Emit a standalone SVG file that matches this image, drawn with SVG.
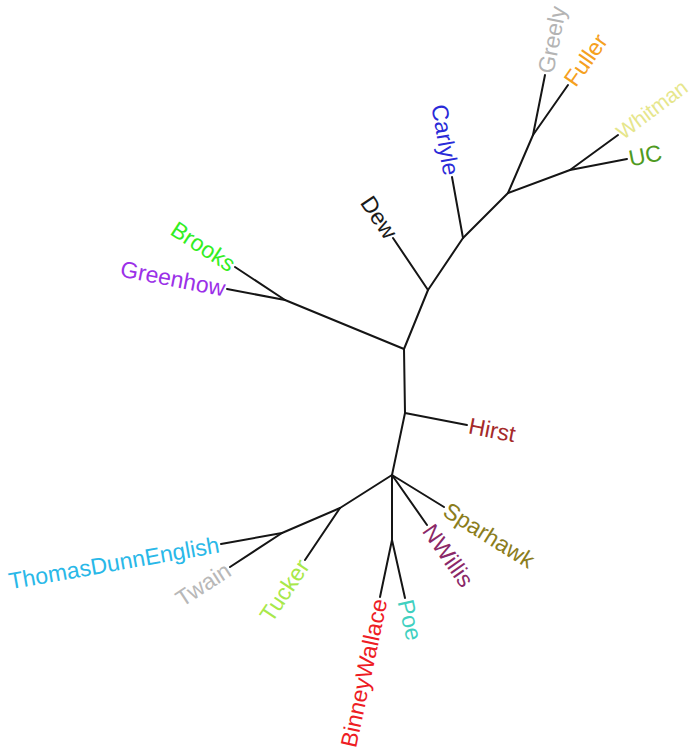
<svg xmlns="http://www.w3.org/2000/svg" width="697" height="753" viewBox="0 0 697 753">
<style>
.e{stroke:#151515;stroke-width:2;fill:none;stroke-linecap:round}
text{font-family:"Liberation Sans",Arial,sans-serif;font-size:23px}
.s{text-anchor:start}
.n{text-anchor:end}
</style>
<rect width="697" height="753" fill="#fff"/>
<g id="connectors">
<line class="e" x1="404" y1="349" x2="285" y2="300"/>
<line class="e" x1="285" y1="300" x2="235" y2="267"/>
<line class="e" x1="285" y1="300" x2="227" y2="289"/>
<line class="e" x1="404" y1="349" x2="428" y2="290"/>
<line class="e" x1="428" y1="290" x2="393" y2="238"/>
<line class="e" x1="428" y1="290" x2="463" y2="238"/>
<line class="e" x1="463" y1="238" x2="452" y2="177"/>
<line class="e" x1="463" y1="238" x2="508" y2="193"/>
<line class="e" x1="508" y1="193" x2="533" y2="135"/>
<line class="e" x1="533" y1="135" x2="545" y2="75"/>
<line class="e" x1="533" y1="135" x2="568" y2="85"/>
<line class="e" x1="508" y1="193" x2="570" y2="170"/>
<line class="e" x1="570" y1="170" x2="618" y2="135"/>
<line class="e" x1="570" y1="170" x2="627" y2="159"/>
<line class="e" x1="404" y1="349" x2="405" y2="413"/>
<line class="e" x1="405" y1="413" x2="467" y2="425"/>
<line class="e" x1="405" y1="413" x2="392" y2="475"/>
<line class="e" x1="392" y1="475" x2="340" y2="508"/>
<line class="e" x1="340" y1="508" x2="282" y2="533"/>
<line class="e" x1="282" y1="533" x2="221" y2="544"/>
<line class="e" x1="282" y1="533" x2="230" y2="567"/>
<line class="e" x1="340" y1="508" x2="305" y2="560"/>
<line class="e" x1="392" y1="475" x2="392" y2="540"/>
<line class="e" x1="392" y1="540" x2="380" y2="597"/>
<line class="e" x1="392" y1="540" x2="405" y2="598"/>
<line class="e" x1="392" y1="475" x2="427" y2="525"/>
<line class="e" x1="392" y1="475" x2="444" y2="507"/>
</g>
<g id="Brooks" transform="translate(235,267) rotate(33)"><text class="n" x="-2" dy="0.35em" fill="#33ee22">Brooks</text></g>
<g id="Greenhow" transform="translate(227,289) rotate(11)"><text class="n" x="-2" dy="0.35em" fill="#9b30e8">Greenhow</text></g>
<g id="Dew" transform="translate(393,238) rotate(56)"><text class="n" x="-2" dy="0.35em" fill="#1a1a1a">Dew</text></g>
<g id="Carlyle" transform="translate(452,177) rotate(80)"><text class="n" x="-2" dy="0.35em" fill="#2a2ad8">Carlyle</text></g>
<g id="Greely" transform="translate(545,75) rotate(-79)"><text class="s" x="2" dy="0.35em" fill="#b4b4b4">Greely</text></g>
<g id="Fuller" transform="translate(568,85) rotate(-55)"><text class="s" x="2" dy="0.35em" fill="#f5a020">Fuller</text></g>
<g id="Whitman" transform="translate(618,135) rotate(-37)"><text class="s" x="1" dy="0.35em" fill="#e6e68c" style="font-size:21px">Whitman</text></g>
<g id="UC" transform="translate(627,159) rotate(-11)"><text class="s" x="2" dy="0.35em" fill="#4f9a22">UC</text></g>
<g id="Hirst" transform="translate(467,425) rotate(11)"><text class="s" x="2" dy="0.35em" fill="#a52a2a">Hirst</text></g>
<g id="Sparhawk" transform="translate(444,507) rotate(32)"><text class="s" x="2" dy="0.35em" fill="#8b7d1c">Sparhawk</text></g>
<g id="NWillis" transform="translate(427,525) rotate(55)"><text class="s" x="2" dy="0.35em" fill="#8b2868">NWillis</text></g>
<g id="Poe" transform="translate(405,598) rotate(77)"><text class="s" x="2" dy="0.35em" fill="#40d0c0">Poe</text></g>
<g id="BinneyWallace" transform="translate(380,597) rotate(-78)"><text class="n" x="-2" dy="0.35em" fill="#ee1c24">BinneyWallace</text></g>
<g id="Tucker" transform="translate(305,560) rotate(-56)"><text class="n" x="-2" dy="0.35em" fill="#a8e84a">Tucker</text></g>
<g id="Twain" transform="translate(230,567) rotate(-33)"><text class="n" x="-2" dy="0.35em" fill="#b8b8b8">Twain</text></g>
<g id="ThomasDunnEnglish" transform="translate(221,544) rotate(-10)"><text class="n" x="-2" dy="0.35em" fill="#29b8e8">ThomasDunnEnglish</text></g>
</svg>
